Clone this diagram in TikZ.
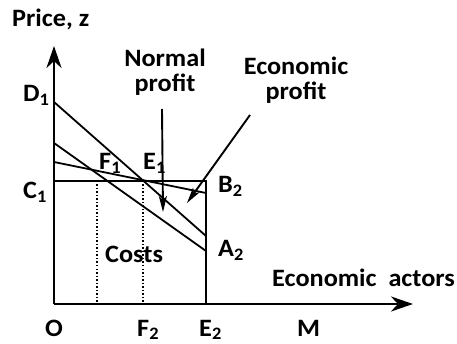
\documentclass[tikz,border=0pt]{standalone}
\usepackage{fontspec}
\setmainfont{Carlito}[FakeStretch=1.05]
\usetikzlibrary{arrows.meta}
\tikzset{
  lbl/.style={anchor=base west, inner sep=0pt, font=\bfseries\fontsize{25}{26}\selectfont},
  ctr/.style={anchor=base, inner sep=0pt, align=center, font=\bfseries\fontsize{25}{25}\selectfont},
  axis/.style={line width=2.8pt, -{Stealth[length=22pt,width=15pt,inset=7pt]}},
  curve/.style={line width=1.8pt},
  guide/.style={line width=1.5pt, dotted},
  pointer/.style={line width=1.9pt, -{Stealth[length=16pt,width=8pt,inset=4pt]}}
}
\newcommand{\sbs}[1]{\textsubscript{#1}}
\begin{document}
\begin{tikzpicture}[x=1pt,y=-1pt]
\useasboundingbox (0,0) rectangle (457,344);
% key points
\coordinate (O) at (54,304);
\coordinate (Ytop) at (54,46);
\coordinate (Xend) at (413,304);
\coordinate (Dp) at (54,102);
\coordinate (Lp) at (54,143);
\coordinate (Sp) at (54,162);
\coordinate (Cp) at (54,181);
\coordinate (B) at (206,181);
\coordinate (Aup) at (206,236);
\coordinate (Alo) at (206,251);
\coordinate (Send) at (206,193);
\coordinate (Ebase) at (206,304);
\coordinate (F1top) at (97,181);
\coordinate (F1bot) at (97,304);
\coordinate (E1top) at (143,181);
\coordinate (E1bot) at (143,304);
\coordinate (NPs) at (162,109);
\coordinate (NPe) at (163,212);
\coordinate (EPs) at (250,115);
\coordinate (EPe) at (187,203);
% axes
\draw[axis] (O) -- (Ytop);
\draw[axis] (O) -- (Xend);
% lines
\draw[curve] (Cp) -- (B) -- (Ebase);
\draw[curve] (Dp) -- (Aup);
\draw[curve] (Lp) -- (Alo);
\draw[curve] (Sp) -- (Send);
\draw[guide] (F1top) -- (F1bot);
\draw[guide] (E1top) -- (E1bot);
% pointers
\draw[pointer] (NPs) -- (NPe);
\draw[pointer] (EPs) -- (EPe);
% labels
\node[lbl] (price) at (12,27) {Price, z};
\node[ctr] (normal) at (165,92) {Normal\\profit};
\node[ctr] (econ) at (296,100) {Economic\\profit};
\node[lbl] (D1) at (23,102) {D\sbs{1}};
\node[lbl] (C1) at (23,199) {C\sbs{1}};
\node[lbl] (F1) at (99,170) {F\sbs{1}};
\node[lbl] (E1) at (143,170) {E\sbs{1}};
\node[lbl] (B2) at (218,193) {B\sbs{2}};
\node[lbl] (A2) at (218,257) {A\sbs{2}};
\node[lbl] (costs) at (105,262) {Costs};
\node[lbl] (actors) at (272,287) {Economic\ \ actors};
\node[lbl] (Olbl) at (45,336) {O};
\node[lbl] (F2) at (137,336) {F\sbs{2}};
\node[lbl] (E2) at (199,336) {E\sbs{2}};
\node[lbl] (M) at (297,336) {M};
\end{tikzpicture}
\end{document}
